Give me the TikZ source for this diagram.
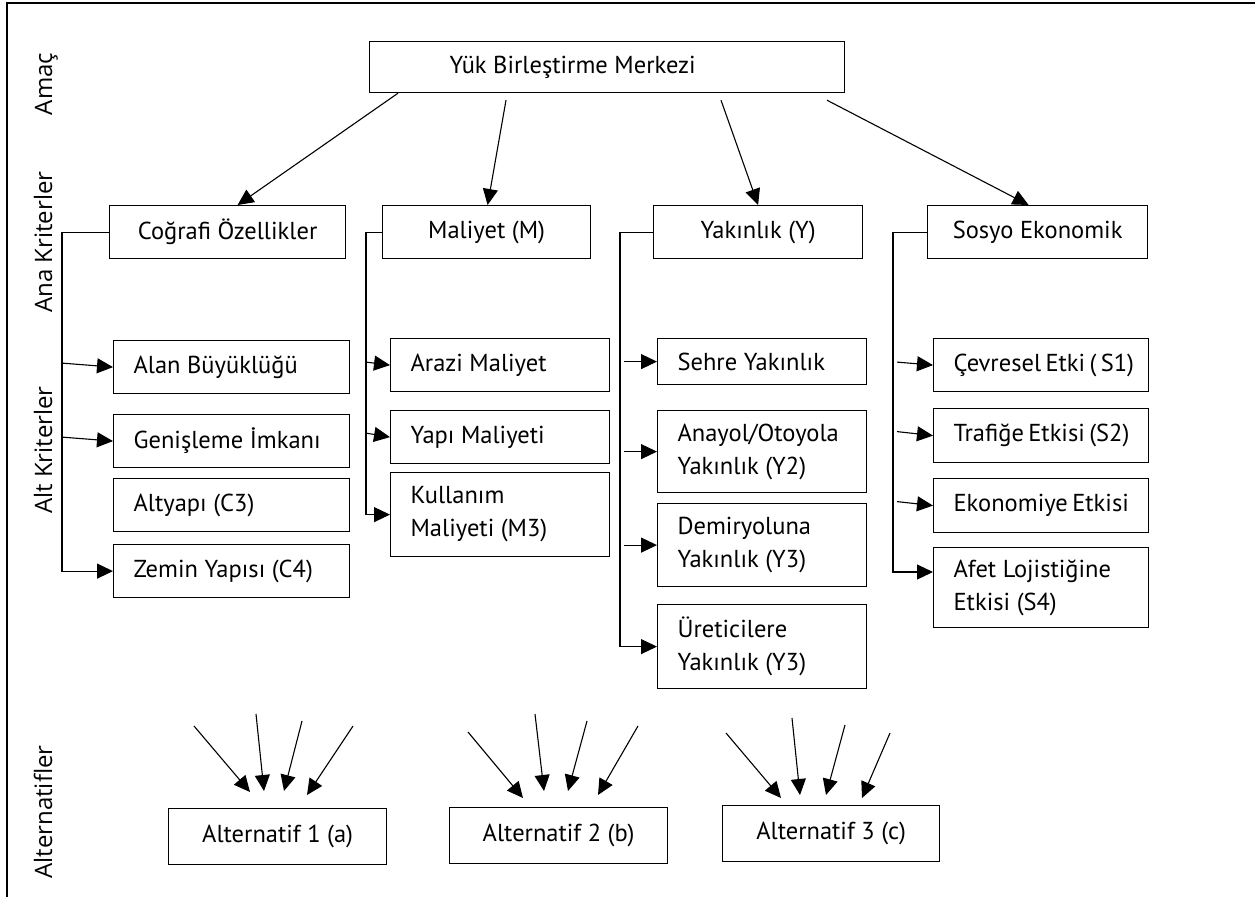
\documentclass[tikz,border=0pt]{standalone}
\usepackage{fontspec}
\newfontfamily\bxfont{PT Sans}
\newfontfamily\sidefont{Open Sans}
\usetikzlibrary{arrows.meta,calc}
\begin{document}
\begin{tikzpicture}[x=1pt,y=-1pt,
  bx/.style={draw, line width=1.2pt, anchor=north west, inner sep=0pt,
    font=\bxfont\fontsize{24.5}{33}\selectfont},
  ctr/.style n args={2}{bx, minimum width=#1pt, minimum height=#2pt, align=center},
  lft/.style n args={2}{bx, inner xsep=20pt, text width=#1pt, minimum height=#2pt, align=flush left,
    execute at begin node={\hyphenpenalty=10000\exhyphenpenalty=10000}},
  arr/.style={line width=1.1pt, -{Triangle[length=16pt,width=15pt]}},
  side/.style={rotate=90, anchor=base, font=\sidefont\fontsize{24}{28}\selectfont},
  frame/.style={line width=2pt}
]
\useasboundingbox (0,0) rectangle (1255,897);
% frame
\coordinate (ftl) at (7,3);
\coordinate (ftr) at (1255,3);
\coordinate (fbl) at (7,897);
\draw[frame] (ftr) -- (ftl) -- (fbl);

% side labels
\node[side] (lamac) at (52,84) {Amaç};
\node[side] (lana) at (52,242) {Ana Kriterler};
\node[side] (lalt) at (52,450) {Alt Kriterler};
\node[side] (lalter) at (52,812) {Alternatifler};

% goal
\node[bx, minimum height=51pt, inner xsep=80pt, text width=315pt, align=flush left] (goal) at (369,41) {Yük Birleştirme Merkezi};

% main criteria
\node[ctr={236}{53}] (cog) at (109,205) {Coğrafi Özellikler};
\node[ctr={208}{53}] (mal) at (382,205) {Maliyet (M)};
\node[ctr={209}{53}] (yak) at (653,205) {Yakınlık (Y)};
\node[ctr={220}{53}] (sos) at (927,205) {Sosyo Ekonomik};

% goal arrows
\draw[arr] ($(goal.south west)+(29,0)$) -- ($(cog.north)+(10,0)$);
\draw[arr] ($(goal.south west)+(137,7)$) -- ($(mal.north)+(1,0)$);
\draw[arr] ($(goal.south west)+(352,7)$) -- (yak.north);
\draw[arr] ($(goal.south west)+(458,7)$) -- ($(sos.north)+(-9,0)$);

% Cografi sub criteria
\node[lft={196}{53}] (alan) at (113,340) {Alan~Büyüklüğü};
\node[lft={196}{53}] (gen) at (113,414) {Genişleme~İmkanı};
\node[lft={196}{53}] (alty) at (113,478) {Altyapı~(C3)};
\node[lft={196}{53}] (zem) at (113,544) {Zemin~Yapısı~(C4)};
\draw[arr] (cog.west) -| ($(zem.west)+(-51,0)$) -- (zem.west);
\draw[arr] ($(alan.west)+(-51,-4)$) -- (alan.west);
\draw[arr] ($(gen.west)+(-51,-4)$) -- (gen.west);

% Maliyet sub criteria
\node[lft={179}{53}] (arazi) at (390,338) {Arazi~Maliyet};
\node[lft={179}{53}] (yapi) at (390,410) {Yapı~Maliyeti};
\node[lft={179}{84}] (kull) at (390,472) {Kullanım\\Maliyeti~(M3)};
\draw[arr] (mal.west) -| ($(kull.west)+(-24,0)$) -- (kull.west);
\draw[arr] ($(arazi.west)+(-24,-3)$) -- (arazi.west);
\draw[arr] ($(yapi.west)+(-24,-4)$) -- (yapi.west);

% Yakinlik sub criteria
\node[lft={169}{46}] (sehre) at (657,338) {Sehre~Yakınlık};
\node[lft={169}{82}] (anayol) at (657,410) {Anayol/Otoyola\\Yakınlık~(Y2)};
\node[lft={169}{83}] (demir) at (657,503) {Demiryoluna\\Yakınlık~(Y3)};
\node[lft={169}{84}] (uret) at (657,604) {Üreticilere\\Yakınlık~(Y3)};
\draw[arr] (yak.west) -| ($(uret.west)+(-37,0)$) -- (uret.west);
\draw[arr] ($(sehre.west)+(-33,0)$) -- (sehre.west);
\draw[arr] ($(anayol.west)+(-33,0)$) -- (anayol.west);
\draw[arr] ($(demir.west)+(-33,0)$) -- (demir.west);

% Sosyo sub criteria
\node[lft={175}{53}] (cevre) at (933,338) {Çevresel~Etki~(~S1)};
\node[lft={175}{54}] (traf) at (933,408) {Trafiğe~Etkisi~(S2)};
\node[lft={175}{54}] (eko) at (933,478) {Ekonomiye~Etkisi};
\node[lft={175}{80}] (afet) at (933,547) {Afet~Lojistiğine\\Etkisi~(S4)};
\draw[arr] (sos.west) -| ($(afet.north west)+(-40,25)$) -- ($(afet.north west)+(0,25)$);
\draw[arr] ($(cevre.west)+(-36,-3)$) -- (cevre.west);
\draw[arr] ($(traf.west)+(-36,-4)$) -- (traf.west);
\draw[arr] ($(eko.west)+(-36,-4)$) -- (eko.west);

% alternatives
\node[ctr={218}{56}] (alt1) at (168,808) {Alternatif 1 (a)};
\node[ctr={218}{56}] (alt2) at (449,807) {Alternatif 2 (b)};
\node[ctr={217}{56}] (alt3) at (722,805) {Alternatif 3 (c)};

\coordinate (a1) at (194,726);
\coordinate (a2) at (256,714);
\coordinate (a3) at (302,721);
\coordinate (a4) at (353,726);
\draw[arr] (a1) -- ($(alt1.north west)+(82,-16)$);
\draw[arr] (a2) -- ($(alt1.north west)+(96,-17)$);
\draw[arr] (a3) -- ($(alt1.north west)+(116,-17)$);
\draw[arr] (a4) -- ($(alt1.north west)+(139,-13)$);

\coordinate (b1) at (468,732);
\coordinate (b2) at (535,714);
\coordinate (b3) at (587,721);
\coordinate (b4) at (638,726);
\draw[arr] (b1) -- ($(alt2.north west)+(74,-9)$);
\draw[arr] (b2) -- ($(alt2.north west)+(95,-16)$);
\draw[arr] (b3) -- ($(alt2.north west)+(119,-16)$);
\draw[arr] (b4) -- ($(alt2.north west)+(149,-12)$);

\coordinate (c1) at (726,733);
\coordinate (c2) at (792,718);
\coordinate (c3) at (845,725);
\coordinate (c4) at (890,733);
\draw[arr] (c1) -- ($(alt3.north west)+(59,-7)$);
\draw[arr] (c2) -- ($(alt3.north west)+(78,-10)$);
\draw[arr] (c3) -- ($(alt3.north west)+(104,-10)$);
\draw[arr] (c4) -- ($(alt3.north west)+(140,-7)$);
\end{tikzpicture}
\end{document}
